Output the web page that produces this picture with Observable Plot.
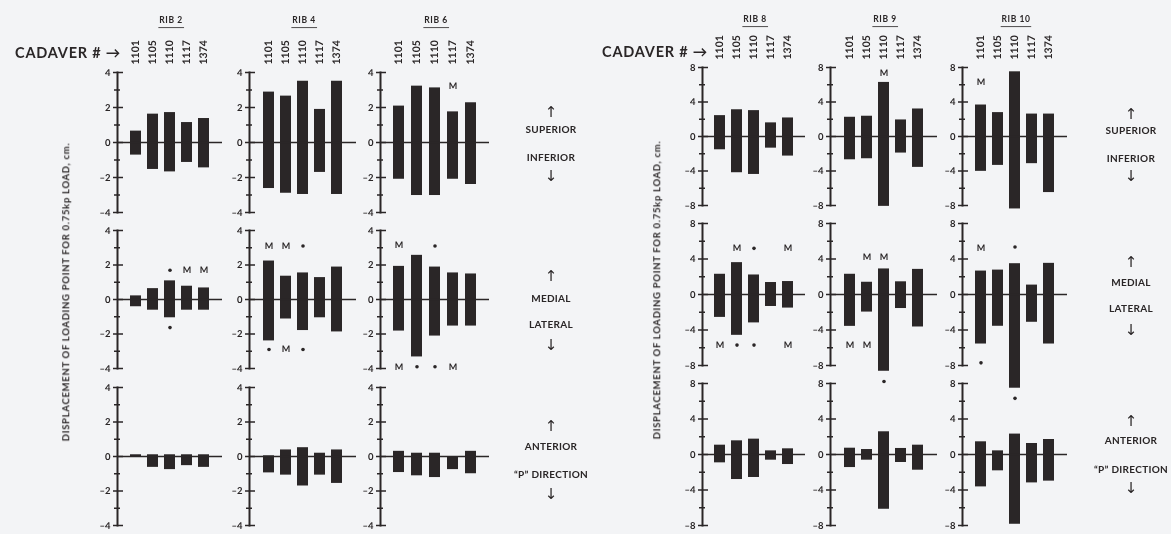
<!DOCTYPE html>
<html><head><meta charset="utf-8">
<script src="https://cdn.jsdelivr.net/npm/d3@7"></script>
<script src="https://cdn.jsdelivr.net/npm/@observablehq/plot@0.6"></script>
<style>
html,body{margin:0;padding:0;background:#f3f4f6;}
#chart{position:relative;width:1171px;height:534px;overflow:hidden;font-family:Lato,"DejaVu Sans",sans-serif;font-weight:700;color:#2a2627;background:#f3f4f6;}
#chart svg{overflow:visible;background:transparent;position:absolute;will-change:transform;}
#chart svg text{text-rendering:geometricPrecision;}
.t{position:absolute;white-space:nowrap;transform:translate(-50%,-50%);line-height:1;will-change:transform;}
.rib{font-size:8.5px;border-bottom:1.8px solid #2a2627;padding:0 1px 2px 1px;letter-spacing:0.6px;}
.dir{font-size:10px;letter-spacing:0.3px;}
.arr{font-family:"DejaVu Sans";font-weight:400;font-size:15px;}
.cad{font-size:14.5px;letter-spacing:0.8px;transform:translate(0,-50%);}
.ytitle{font-size:9.5px;letter-spacing:0.7px;transform:translate(-50%,-50%) rotate(-90deg);}
</style>
</head><body>
<div id="chart"></div>
<script>
// ---- data ----
const cadavers = ["1101", "1105", "1110", "1117", "1374"];
const ribs = ["RIB 2", "RIB 4", "RIB 6", "RIB 8", "RIB 9", "RIB 10"];
const directionUp = ["SUPERIOR", "MEDIAL", "ANTERIOR"];
const directionDown = ["INFERIOR", "LATERAL", "\u201CP\u201D DIRECTION"];
const yTitle = "DISPLACEMENT OF LOADING POINT FOR 0.75kp LOAD, cm.";

// superior (+) / inferior (-) displacement, one row per rib, values per cadaver
const superiorMax = [
  [0.65, 1.62, 1.71, 1.14, 1.37],
  [2.88, 2.65, 3.5, 1.89, 3.5],
  [2.08, 3.22, 3.12, 1.75, 2.27],
  [2.42, 3.1, 3.0, 1.58, 2.15],
  [2.23, 2.35, 6.27, 1.92, 3.19],
  [3.65, 2.77, 7.5, 2.6, 2.6]
];
const superiorMin = [
  [-0.72, -1.54, -1.68, -1.14, -1.45],
  [-2.63, -2.9, -2.97, -1.71, -2.97],
  [-2.1, -3.03, -3.03, -2.1, -2.4],
  [-1.54, -4.2, -4.4, -1.35, -2.27],
  [-2.7, -2.58, -8.1, -1.92, -3.58],
  [-4.04, -3.35, -8.4, -3.15, -6.5]
];
// medial (+) / lateral (-)
const medialMax = [
  [0.21, 0.63, 1.08, 0.77, 0.67],
  [2.23, 1.35, 1.54, 1.27, 1.88],
  [1.92, 2.56, 1.88, 1.54, 1.48],
  [2.28, 3.59, 2.2, 1.35, 1.46],
  [2.28, 1.38, 2.88, 1.43, 2.83],
  [2.64, 2.75, 3.47, 1.06, 3.51]
];
const medialMin = [
  [-0.42, -0.62, -1.06, -0.62, -0.62],
  [-2.4, -1.13, -1.8, -1.06, -1.88],
  [-1.83, -3.33, -2.12, -1.54, -1.54],
  [-2.58, -4.6, -3.2, -1.35, -1.53],
  [-3.59, -1.98, -8.65, -1.58, -3.66],
  [-5.58, -3.58, -10.56, -3.13, -5.58]
];
// anterior (+) / "P" direction (-)
const anteriorMax = [
  [0.1, 0.1, 0.1, 0.1, 0.1],
  [0.04, 0.38, 0.51, 0.19, 0.38],
  [0.3, 0.19, 0.19, 0.0, 0.3],
  [1.05, 1.54, 1.73, 0.41, 0.64],
  [0.71, 0.56, 2.56, 0.68, 1.05],
  [1.43, 0.41, 2.3, 1.24, 1.69]
];
const anteriorMin = [
  [-0.04, -0.63, -0.76, -0.53, -0.63],
  [-0.95, -1.08, -1.71, -1.08, -1.56],
  [-0.93, -1.12, -1.22, -0.76, -1.0],
  [-0.94, -2.82, -2.59, -0.64, -1.13],
  [-1.47, -0.64, -6.17, -0.9, -1.77],
  [-3.65, -1.84, -7.86, -3.2, -3.0]
];
// annotation markers: [rib, row, cadaver, value, symbol]
const markers = [
  ["RIB 6", 0, "1117", 3.2, "M"],
  ["RIB 9", 0, "1110", 7.4, "M"],
  ["RIB 10", 0, "1101", 6.35, "M"],
  ["RIB 2", 1, "1110", 1.7, "•"], ["RIB 2", 1, "1110", -1.63, "•"],
  ["RIB 2", 1, "1117", 1.7, "M"], ["RIB 2", 1, "1374", 1.7, "M"],
  ["RIB 4", 1, "1101", 3.1, "M"], ["RIB 4", 1, "1105", 3.1, "M"], ["RIB 4", 1, "1110", 3.1, "•"],
  ["RIB 4", 1, "1101", -2.9, "•"], ["RIB 4", 1, "1105", -2.9, "M"], ["RIB 4", 1, "1110", -2.9, "•"],
  ["RIB 6", 1, "1101", 3.17, "M"], ["RIB 6", 1, "1110", 3.1, "•"],
  ["RIB 6", 1, "1101", -3.9, "M"], ["RIB 6", 1, "1105", -3.9, "•"], ["RIB 6", 1, "1110", -3.9, "•"], ["RIB 6", 1, "1117", -3.9, "M"],
  ["RIB 8", 1, "1105", 5.2, "M"], ["RIB 8", 1, "1110", 5.2, "•"], ["RIB 8", 1, "1374", 5.2, "M"],
  ["RIB 8", 1, "1101", -5.7, "M"], ["RIB 8", 1, "1105", -5.7, "•"], ["RIB 8", 1, "1110", -5.7, "•"], ["RIB 8", 1, "1374", -5.7, "M"],
  ["RIB 9", 1, "1105", 4.2, "M"], ["RIB 9", 1, "1110", 4.2, "M"],
  ["RIB 9", 1, "1101", -5.7, "M"], ["RIB 9", 1, "1105", -5.7, "M"],
  ["RIB 9", 1, "1110", -9.8, "•"],
  ["RIB 10", 1, "1101", 5.28, "M"], ["RIB 10", 1, "1110", 5.36, "•"],
  ["RIB 10", 1, "1101", -7.7, "•"], ["RIB 10", 1, "1110", -11.7, "•"]
];
const ticksLeftMajor = [4, 2, 0, -2, -4];
const ticksLeftMinor = [3, 1, -1, -3];
const ticksRightMajor = [8, 4, 0, -4, -8];
const ticksRightMinor = [6, 2, -2, -6];

// ---- layout ----
const ink = "#2a2627";
const ribX = {"RIB 2": [117, 222], "RIB 4": [249, 356], "RIB 6": [380, 489],
              "RIB 8": [702, 805], "RIB 9": [830, 937], "RIB 10": [962, 1067]};
const rowsLeft = [[72, 212], [230, 368], [387, 525]];
const rowsRight = [[67, 205], [223, 365], [383, 525]];
const rowMax = [superiorMax, medialMax, anteriorMax];
const rowMin = [superiorMin, medialMin, anteriorMin];

const chart = document.getElementById("chart");
const fmt = d => d < 0 ? "\u2013" + Math.abs(d) : String(d);

function addText(cls, text, x, y) {
  const el = document.createElement("div");
  el.className = "t " + cls;
  el.textContent = text;
  el.style.left = x + "px";
  el.style.top = y + "px";
  chart.appendChild(el);
  return el;
}

ribs.forEach((rib, ri) => {
  const right = ri >= 3;
  const [x0, x1] = ribX[rib];
  const lim = right ? 8 : 4;
  const major = right ? ticksRightMajor : ticksLeftMajor;
  const minor = right ? ticksRightMinor : ticksLeftMinor;
  [0, 1, 2].forEach(row => {
    const [y0, y1] = (right ? rowsRight : rowsLeft)[row];
    const data = cadavers.map((c, i) => ({cadaver: c, hi: rowMax[row][ri][i], lo: rowMin[row][ri][i]}));
    const mk = markers.filter(m => m[0] === rib && m[1] === row)
      .map(m => ({cadaver: m[2], value: m[3], symbol: m[4]}));
    const ml = 30, mr = 6, mt = row === 0 ? 60 : 6, mb = 6;
    const marks = [
      Plot.barY(data, {x: "cadaver", y1: "lo", y2: "hi", fill: ink}),
      Plot.ruleY([0], {stroke: ink, strokeWidth: 1.6}),
      Plot.frame({anchor: "left", stroke: ink, strokeWidth: 2}),
      Plot.axisY({ticks: major, tickSize: 10, dx: 6, tickPadding: 3, tickFormat: fmt, label: null,
                  fontSize: 9.5, fontWeight: "bold", strokeWidth: 1.5}),
      Plot.axisY({ticks: minor, tickSize: 6, dx: 3, tickFormat: () => "", label: null, strokeWidth: 1.5}),
      Plot.text(mk.filter(d => d.symbol === "M"), {x: "cadaver", y: "value", text: "symbol",
                fontSize: 9, fontWeight: "bold", fill: ink}),
      Plot.dot(mk.filter(d => d.symbol !== "M"), {x: "cadaver", y: "value", r: 1.8, fill: ink, stroke: "none"})
    ];
    if (row === 0) {
      marks.push(Plot.axisX({anchor: "top", tickSize: 0, tickRotate: -90, textAnchor: "start", label: null,
                             lineAnchor: "middle", tickPadding: 8, fontSize: 10.5, fontWeight: "bold"}));
    }
    const p = Plot.plot({
      width: x1 - x0 + ml + mr,
      height: y1 - y0 + mt + mb,
      marginLeft: ml, marginRight: mr, marginTop: mt, marginBottom: mb,
      x: {domain: cadavers, paddingInner: 0.37, paddingOuter: 0.69, label: null, ...(row === 0 ? {} : {axis: null})},
      y: {domain: [-lim, lim], label: null},
      style: {background: "transparent", color: ink, overflow: "visible", fontFamily: "Lato, 'DejaVu Sans', sans-serif"},
      marks
    });
    p.style.left = (x0 - ml) + "px";
    p.style.top = (y0 - mt) + "px";
    chart.appendChild(p);
  });
  // rib title
  const ty = right ? 19 : 20;
  addText("rib", rib, (x0 + x1) / 2 + 1, ty + 2);
});

// CADAVER # labels
[[15, 53], [602, 52]].forEach(([x, y]) => {
  addText("cad", "CADAVER # \u2192", x, y);
});
// y titles
addText("ytitle", yTitle, 66, 292);
addText("ytitle", yTitle, 657, 290);

// direction labels
const dirLeft = {x: 551, rows: [[112, 129, 157, 176], [276, 298, 324, 345], [426, 446, 474, 494]]};
const dirRight = {x: 1131, rows: [[114, 130, 158, 176], [262, 282, 308, 330], [421, 440, 469, 488]]};
[dirLeft, dirRight].forEach(d => {
  d.rows.forEach((r, i) => {
    addText("arr", "\u2191", d.x, r[0]);
    addText("dir", directionUp[i], d.x, r[1]);
    addText("dir", directionDown[i], d.x, r[2]);
    addText("arr", "\u2193", d.x, r[3]);
  });
});
</script>
</body></html>
